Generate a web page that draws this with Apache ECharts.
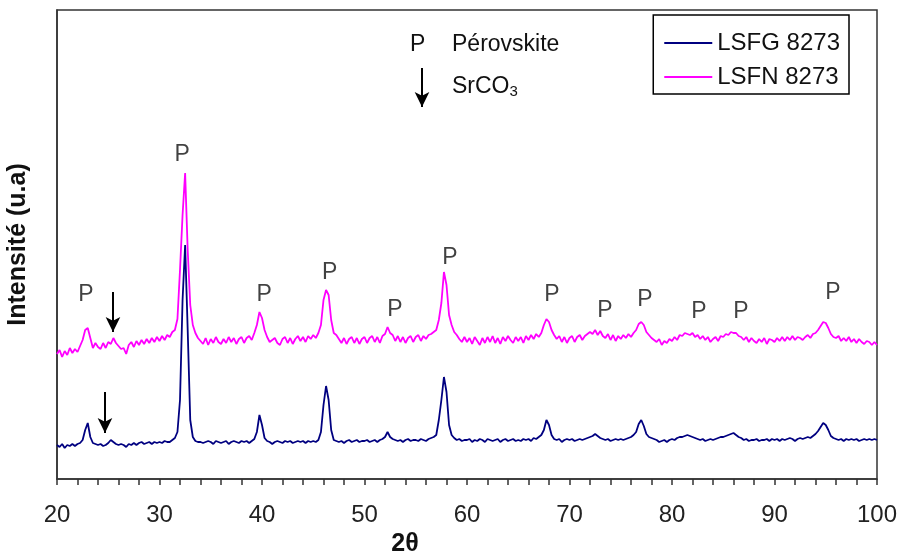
<!DOCTYPE html>
<html>
<head>
<meta charset="utf-8">
<script src="https://cdn.jsdelivr.net/npm/echarts@6/dist/echarts.min.js"></script>
<style>
html,body{margin:0;padding:0;background:#fff;}
#chart{width:899px;height:552px;}
</style>
</head>
<body>
<div id="chart"></div>
<script>
// 2θ grid of the scans
const twoThetaStart = 20;
const twoThetaStep = 0.25;

// Intensities (arbitrary units), one value per 0.25° from 20° to 100°
const lsfnIntensity = [
  125,129,122,128,124,131,126,130,127,133,139,149,151,141,131,136,132,130,136,131,
  137,135,141,136,133,130,131,125,134,137,132,138,134,139,135,140,136,141,137,142,
  138,143,139,144,142,147,149,160,209,264,306,229,174,154,146,141,138,135,141,134,
  140,136,142,137,135,140,136,142,137,141,135,140,142,136,141,143,139,146,154,167,
  161,149,142,137,139,141,136,134,140,142,136,141,135,140,143,138,142,137,143,140,
  144,141,146,154,179,189,184,159,146,144,140,136,141,135,140,142,136,141,135,140,
  142,136,141,143,137,142,136,143,145,152,146,144,138,143,137,142,136,141,143,137,
  142,144,138,143,140,144,145,147,149,159,176,207,194,164,154,147,144,140,137,142,
  137,141,135,142,138,134,141,136,142,137,143,136,141,135,142,138,143,139,136,142,
  138,142,136,143,139,144,140,145,142,146,154,160,157,149,144,140,143,137,142,136,
  141,143,137,142,144,139,143,145,147,145,149,144,148,143,141,145,139,144,138,143,
  140,144,141,145,142,146,149,155,157,154,147,144,141,139,137,140,134,138,136,140,
  138,142,139,144,143,146,145,144,146,142,144,140,143,139,142,137,140,142,138,143,
  142,145,144,147,146,146,143,142,139,142,137,141,138,136,140,137,141,135,140,139,
  137,141,138,142,138,142,139,143,139,142,141,139,142,144,141,145,146,149,153,157,
  156,151,145,142,141,143,138,141,138,142,137,140,136,140,137,135,138,137,134,137,
  134
];
const lsfgIntensity = [
  34,32,35,31,34,33,35,33,35,36,39,49,56,42,36,35,34,35,33,34,
  36,39,37,35,34,35,34,32,35,34,36,34,36,37,35,36,37,35,37,36,
  37,36,38,37,37,39,41,47,79,179,234,149,59,42,38,37,37,36,37,38,
  37,35,38,37,36,37,38,35,37,38,37,36,38,37,38,36,38,40,47,64,
  54,41,38,37,35,37,38,37,36,38,37,38,36,37,38,37,38,36,38,37,
  38,37,39,47,74,93,79,49,39,38,37,38,36,38,39,37,38,39,37,38,
  38,39,37,38,39,37,39,40,42,47,42,40,39,38,39,37,39,40,38,39,
  39,38,40,39,38,40,41,42,44,59,79,102,87,54,44,41,39,40,38,39,
  39,40,37,39,38,40,39,37,40,39,38,39,40,37,39,40,38,39,40,38,
  39,38,40,39,40,38,41,40,42,44,49,59,54,44,40,39,40,37,39,40,
  39,40,38,39,40,39,40,41,42,43,45,43,41,40,39,40,38,39,40,39,
  40,39,40,41,42,44,47,55,59,53,45,42,41,40,39,37,38,39,37,39,
  40,39,41,42,42,43,44,43,42,41,40,39,40,38,39,40,39,40,41,42,
  42,43,44,45,46,44,42,41,39,40,38,39,39,40,38,39,39,40,38,40,
  39,40,38,40,39,40,41,40,38,40,41,40,41,42,41,43,45,48,52,56,
  54,49,43,41,40,39,40,38,40,39,40,39,40,38,39,40,39,40,39,40,
  39
];

// "P" (perovskite) peak labels
const perovLabelTheta = [22.83, 32.2, 40.2, 46.6, 52.98, 58.34, 68.29, 73.46, 77.37, 82.63, 86.73, 95.71];
const perovLabelY     = [184, 324, 184, 206, 169, 221, 184, 168, 179, 167, 167, 186];

// SrCO3 arrows: [theta, yStart, yTip]
const srco3LSFN = [25.46, 187, 147];
const srco3LSFG = [24.68, 87, 46];
const keyArrow  = [55.61, 411, 372];

const seriesNames = ['LSFG 8273', 'LSFN 8273'];
const xTicks = [20, 30, 40, 50, 60, 70, 80, 90, 100];

const FONT = "'Liberation Sans', Arial, sans-serif";

function toPairs(arr) {
  return arr.map((v, i) => [twoThetaStart + i * twoThetaStep, v]);
}
function arrowLine(a) {
  return [{ coord: [a[0], a[1]], symbol: 'none' }, { coord: [a[0], a[2]], symbol: 'arrow' }];
}

const chart = echarts.init(document.getElementById('chart'), null, { renderer: 'canvas' });
chart.setOption({
  animation: false,
  backgroundColor: '#fff',
  textStyle: { fontFamily: FONT },
  grid: {
    left: 57, right: 22, top: 10, bottom: 73,
    show: true, borderColor: '#333', borderWidth: 1.5,
    containLabel: false, outerBoundsMode: 'none'
  },
  legend: {
    data: seriesNames,
    orient: 'vertical',
    right: 50,
    top: 15,
    borderColor: '#000',
    borderWidth: 1.5,
    padding: [16, 9, 5, 10],
    itemGap: 10,
    itemWidth: 48,
    itemHeight: 14,
    itemStyle: { opacity: 0 },
    textStyle: { fontSize: 24, color: '#111', fontFamily: FONT, lineHeight: 24 }
  },
  xAxis: {
    type: 'value',
    min: xTicks[0],
    max: xTicks[xTicks.length - 1],
    interval: 10,
    name: '2θ',
    nameLocation: 'middle',
    nameGap: 51,
    nameTextStyle: { fontSize: 25, fontWeight: 'bold', color: '#111', padding: [0, 124, 0, 0] },
    axisLine: { show: true, lineStyle: { color: '#333', width: 1.5 } },
    axisTick: { show: true, inside: false, length: 6, lineStyle: { color: '#333', width: 1.5 } },
    minorTick: { show: true, splitNumber: 5, length: 6, lineStyle: { color: '#333', width: 1.5 } },
    axisLabel: { fontSize: 24, color: '#222', margin: 24 },
    splitLine: { show: false }
  },
  yAxis: {
    type: 'value',
    min: 0,
    max: 469,
    name: 'Intensité (u.a)',
    nameLocation: 'middle',
    nameGap: 26,
    nameTextStyle: { fontSize: 25, fontWeight: 'bold', color: '#111' },
    axisLine: { show: true, lineStyle: { color: '#333', width: 1.5 } },
    axisTick: { show: false },
    axisLabel: { show: false },
    splitLine: { show: false }
  },
  graphic: [
    { type: 'text', left: 410, top: 33, style: { text: 'P', font: '23px ' + FONT, fill: '#111' } },
    { type: 'text', left: 452, top: 33, style: { text: 'Pérovskite', font: '23px ' + FONT, fill: '#111' } },
    { type: 'text', left: 452, top: 75, style: {
        text: '{a|SrCO}{b|3}',
        rich: {
          a: { fontSize: 23, fontFamily: FONT, fill: '#111', color: '#111' },
          b: { fontSize: 15, fontFamily: FONT, fill: '#111', color: '#111', padding: [10, 0, 0, 0] }
        }
      } }
  ],
  series: [
    {
      name: seriesNames[0],
      type: 'line',
      data: toPairs(lsfgIntensity),
      symbol: 'none',
      lineStyle: { color: '#000080', width: 1.8 },
      itemStyle: { color: '#000080' },
      z: 3,
      markLine: {
        silent: true,
        symbolSize: [11, 15],
        label: { show: false },
        lineStyle: { color: '#000', type: 'solid', width: 2 },
        data: [arrowLine(srco3LSFG)]
      }
    },
    {
      name: seriesNames[1],
      type: 'line',
      data: toPairs(lsfnIntensity),
      symbol: 'none',
      lineStyle: { color: '#ff00ff', width: 1.8 },
      itemStyle: { color: '#ff00ff' },
      z: 2,
      markLine: {
        silent: true,
        symbolSize: [11, 15],
        label: { show: false },
        lineStyle: { color: '#000', type: 'solid', width: 2 },
        data: [arrowLine(srco3LSFN), arrowLine(keyArrow)]
      }
    },
    {
      name: 'Pérovskite labels',
      type: 'scatter',
      symbolSize: 1,
      itemStyle: { color: 'rgba(0,0,0,0)' },
      silent: true,
      label: { show: true, formatter: 'P', position: 'inside', fontSize: 23, color: '#111', fontFamily: FONT },
      data: perovLabelTheta.map((t, i) => [t, perovLabelY[i]])
    }
  ]
});
</script>
</body>
</html>
